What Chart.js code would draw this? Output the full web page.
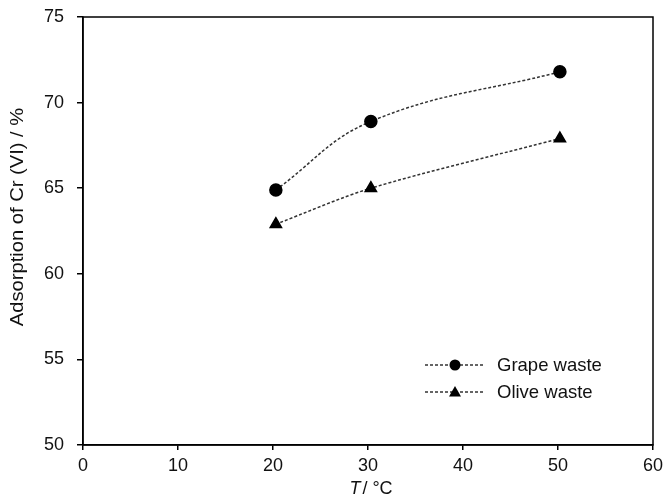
<!DOCTYPE html>
<html>
<head>
<meta charset="utf-8">
<script src="https://cdn.jsdelivr.net/npm/chart.js@4/dist/chart.umd.min.js"></script>
<style>
html,body{margin:0;padding:0;background:#fff;}
#wrap{width:664px;height:497px;position:relative;}
</style>
</head>
<body>
<div id="wrap"><canvas id="c" width="664" height="497"></canvas></div>
<script>
const temperatures = [20.3, 30.3, 50.2];
const grapeWaste = [64.9, 68.9, 71.8];
const oliveWaste = [62.9, 65.0, 67.9];
const seriesNames = ['Grape waste', 'Olive waste'];
const xTicks = [0, 10, 20, 30, 40, 50, 60];
const yTicks = [50, 55, 60, 65, 70, 75];
const yTitle = 'Adsorption of Cr (VI) / %';

const FONT = 'Liberation Sans, Arial, sans-serif';

const boxPlugin = {
  id: 'box',
  afterDraw(chart) {
    const {ctx, chartArea: a} = chart;
    ctx.save();
    ctx.strokeStyle = '#000';
    ctx.lineWidth = 1.5;
    ctx.strokeRect(a.left, a.top, a.right - a.left, a.bottom - a.top);
    ctx.fillStyle = '#111';
    // y title
    ctx.save();
    ctx.translate(18, 217);
    ctx.rotate(-Math.PI / 2);
    ctx.scale(1.12, 1);
    ctx.font = '18px ' + FONT;
    ctx.textAlign = 'center';
    ctx.textBaseline = 'middle';
    ctx.fillText(yTitle, 0, 0);
    ctx.restore();
    // x title with italic T
    ctx.textBaseline = 'alphabetic';
    const cx = 371;
    ctx.font = 'italic 18px ' + FONT;
    const tW = ctx.measureText('T').width;
    ctx.font = '18px ' + FONT;
    const rest = '/ °C';
    const rW = ctx.measureText(rest).width;
    const start = cx - (tW + rW + 2) / 2;
    ctx.font = 'italic 18px ' + FONT;
    ctx.fillText('T', start, 494);
    ctx.font = '18px ' + FONT;
    ctx.fillText(rest, start + tW + 2, 494);
    // legend
    const ds = chart.data.datasets;
    ds.forEach((d, i) => {
      const y = 365 + i * 27;
      ctx.setLineDash([3, 2]);
      ctx.lineWidth = 1.4;
      ctx.strokeStyle = '#333';
      ctx.beginPath();
      ctx.moveTo(425, y);
      ctx.lineTo(483, y);
      ctx.stroke();
      ctx.setLineDash([]);
      ctx.fillStyle = '#000';
      ctx.beginPath();
      if (d.pointStyle === 'triangle') {
        ctx.moveTo(455, y - 6);
        ctx.lineTo(461, y + 4.5);
        ctx.lineTo(449, y + 4.5);
        ctx.closePath();
      } else {
        ctx.arc(455, y, 5.5, 0, Math.PI * 2);
      }
      ctx.fill();
      ctx.fillStyle = '#111';
      ctx.font = '18.5px ' + FONT;
      ctx.textBaseline = 'middle';
      ctx.fillText(d.label, 497, y + 1);
    });
    ctx.restore();
  }
};

new Chart(document.getElementById('c'), {
  type: 'scatter',
  data: {
    datasets: [
      {
        label: seriesNames[0],
        data: temperatures.map((t, i) => ({x: t, y: grapeWaste[i]})),
        showLine: true,
        borderColor: '#333',
        borderWidth: 1.5,
        borderDash: [3, 2],
        tension: 0.4,
        pointStyle: 'circle',
        pointRadius: 6,
        pointBackgroundColor: '#000',
        pointBorderColor: '#000'
      },
      {
        label: seriesNames[1],
        data: temperatures.map((t, i) => ({x: t, y: oliveWaste[i]})),
        showLine: true,
        borderColor: '#333',
        borderWidth: 1.5,
        borderDash: [3, 2],
        tension: 0.3,
        pointStyle: 'triangle',
        pointRadius: 6.5,
        pointBackgroundColor: '#000',
        pointBorderColor: '#000'
      }
    ]
  },
  plugins: [boxPlugin],
  options: {
    responsive: false,
    animation: false,
    layout: {padding: {top: 17, right: 11, left: 0, bottom: 0}},
    plugins: {legend: {display: false}, tooltip: {enabled: false}},
    scales: {
      x: {
        type: 'linear',
        min: 0, max: 60,
        afterBuildTicks(s) { s.ticks = xTicks.map(v => ({value: v})); },
        afterFit(s) { s.height = 52; s.paddingLeft = 0; s.paddingRight = 0; },
        grid: {drawOnChartArea: false, drawTicks: true, tickLength: 5, color: '#000', lineWidth: 1.5},
        border: {display: true, color: '#000', width: 1.5},
        ticks: {color: '#111', font: {family: FONT, size: 18}, padding: 5, maxRotation: 0}
      },
      y: {
        type: 'linear',
        min: 50, max: 75,
        afterBuildTicks(s) { s.ticks = yTicks.map(v => ({value: v})); },
        afterFit(s) { s.width = 83; s.paddingTop = 0; s.paddingBottom = 0; },
        grid: {drawOnChartArea: false, drawTicks: true, tickLength: 6, color: '#000', lineWidth: 1.5},
        border: {display: true, color: '#000', width: 1.5},
        ticks: {color: '#111', font: {family: FONT, size: 18}, padding: 13}
      }
    }
  }
});
</script>
</body>
</html>
